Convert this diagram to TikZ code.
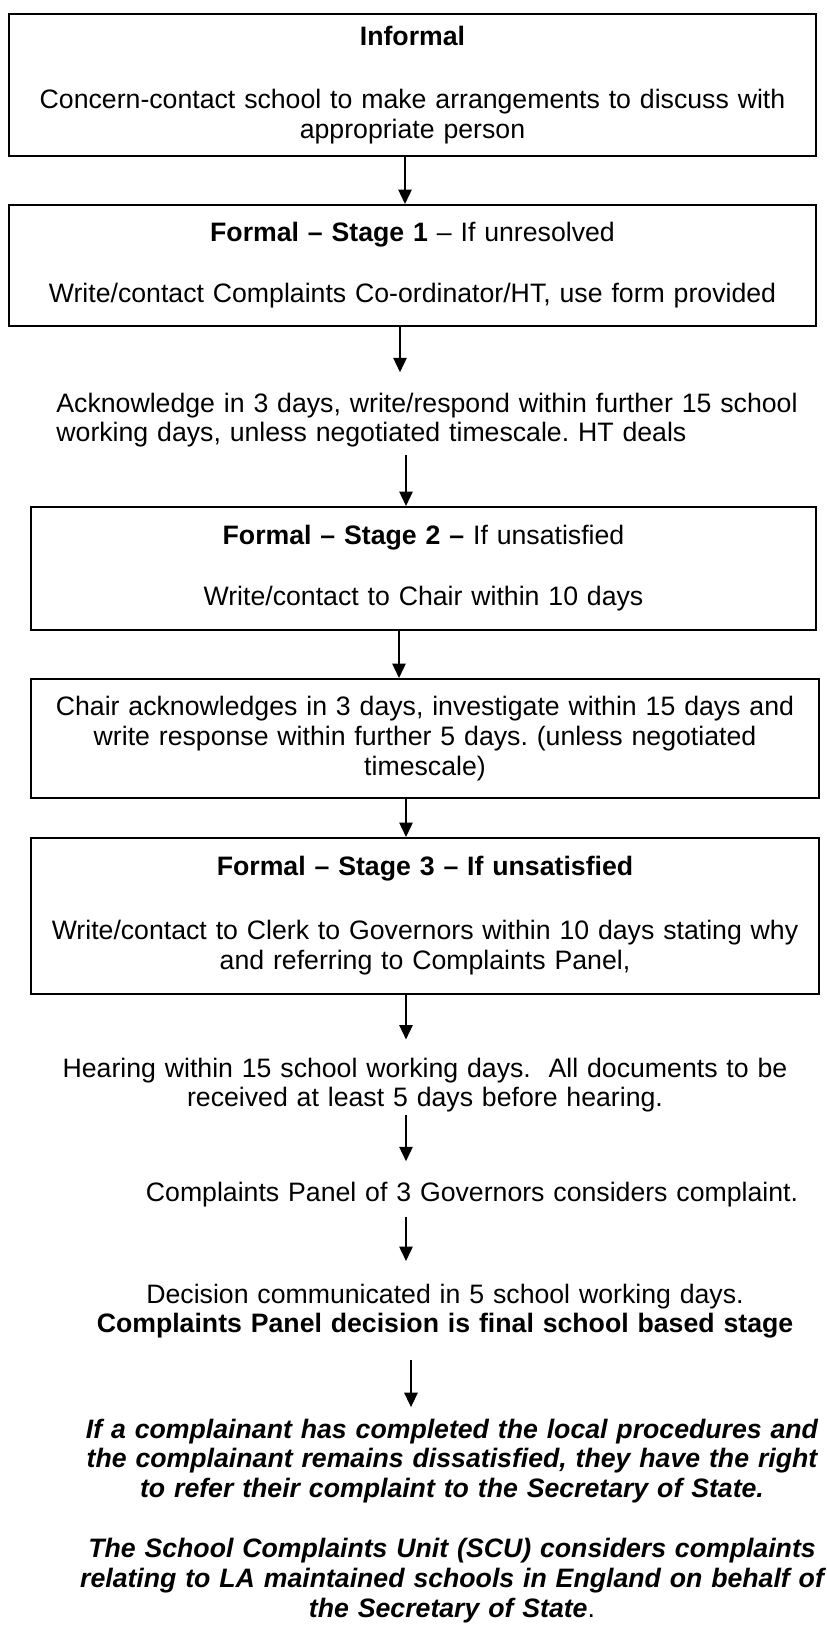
\documentclass[tikz,border=0pt]{standalone}
\usepackage{fontspec}
\setmainfont{Liberation Sans}
\usetikzlibrary{arrows.meta}
\frenchspacing

\begin{document}
\begin{tikzpicture}[x=0.45pt, y=-0.45pt, font=\fontsize{12}{13.4}\selectfont,
    stepbox/.style={draw, line width=0.8pt, align=center, anchor=north, inner xsep=4pt, inner ysep=0pt},
    note/.style={align=center, anchor=base, inner sep=0pt, text width=360pt},
    arr/.style={-{Triangle[length=6.5pt,width=6pt]}, line width=0.8pt}]

    \useasboundingbox (0,0) rectangle (826,1632);

    % columns of the arrows
    \coordinate (c1) at (405,0);
    \coordinate (c2) at (400,0);
    \coordinate (c3) at (406,0);
    \coordinate (c4) at (399,0);
    \coordinate (c5) at (411,0);

    \node[stepbox, text width=355pt, minimum width=363pt, minimum height=64pt] (informal) at (412.5,13) {\textbf{Informal}\\[15pt] Concern-contact school to make arrangements to discuss with\\ appropriate person};
    \node[stepbox, text width=355pt, minimum width=363pt, minimum height=54.5pt] (stage1) at (412.5,204) {\textbf{Formal – Stage 1} – If unresolved\\[14pt] Write/contact Complaints Co-ordinator/HT, use form provided};
    \node[note, anchor=base west, align=left] (ack) at (56,412) {Acknowledge in 3 days, write/respond within further 15 school\\ working days, unless negotiated timescale. HT deals};
    \node[stepbox, text width=345.3pt, minimum width=353.3pt, minimum height=55.4pt] (stage2) at (423.5,506) {\textbf{Formal – Stage 2 –} If unsatisfied\\[14pt] Write/contact to Chair within 10 days};
    \node[stepbox, text width=346.6pt, minimum width=354.6pt, minimum height=53.5pt] (chair) at (425,678) {Chair acknowledges in 3 days, investigate within 15 days and\\ write response within further 5 days. (unless negotiated\\ timescale)};
    \node[stepbox, text width=346.6pt, minimum width=354.6pt, minimum height=70.2pt] (stage3) at (425,837) {\textbf{Formal – Stage 3 – If unsatisfied}\\[15.4pt] Write/contact to Clerk to Governors within 10 days stating why\\ and referring to Complaints Panel,};
    \node[note] (hearing) at (425,1077) {Hearing within 15 school working days.\ \ All documents to be\\ received at least 5 days before hearing.};
    \node[note] (panel) at (472,1201) {Complaints Panel of 3 Governors considers complaint.};
    \node[note] (decision) at (445,1303) {Decision communicated in 5 school working days.\\ \textbf{Complaints Panel decision is final school based stage}};
    \node[note] (refer) at (452,1438) {\textbf{\textit{If a complainant has completed the local procedures and\\ the complainant remains dissatisfied, they have the right\\ to refer their complaint to the Secretary of State.}}\\[13.6pt]
        \textbf{\textit{The School Complaints Unit (SCU) considers complaints\\ relating to LA maintained schools in England on behalf of\\ the Secretary of State}}.};

    \draw[arr] (informal.south -| c1) -- (stage1.north -| c1);
    \draw[arr] (stage1.south -| c2) -- ([yshift=9pt]ack.north -| c2);
    \draw[arr] ([yshift=-3.3pt]ack.south -| c3) -- (stage2.north -| c3);
    \draw[arr] (stage2.south -| c4) -- (chair.north -| c4);
    \draw[arr] (chair.south -| c3) -- (stage3.north -| c3);
    \draw[arr] (stage3.south -| c3) -- ([yshift=8pt]hearing.north -| c3);
    \draw[arr] ([yshift=-1pt]hearing.south -| c3) -- ([yshift=9pt]panel.north -| c3);
    \draw[arr] ([yshift=-4.5pt]panel.south -| c3) -- ([yshift=10pt]decision.north -| c3);
    \draw[arr] ([yshift=-9.5pt]decision.south -| c5) -- ([yshift=5pt]refer.north -| c5);
\end{tikzpicture}
\end{document}
